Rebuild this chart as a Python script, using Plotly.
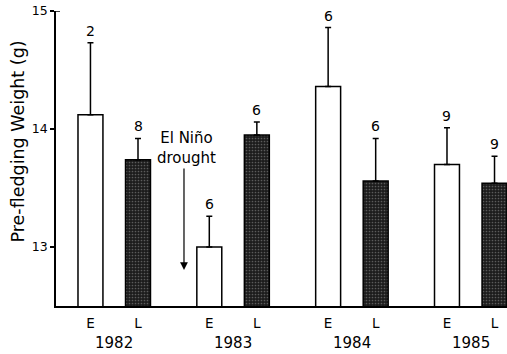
import plotly.graph_objects as go

years = [1982, 1983, 1984, 1985]
early_mean = [14.12, 13.00, 14.36, 13.70]
early_err = [0.61, 0.26, 0.50, 0.31]
early_n = [2, 6, 6, 9]
late_mean = [13.74, 13.95, 13.56, 13.54]
late_err = [0.18, 0.11, 0.36, 0.23]
late_n = [8, 6, 6, 9]
season_labels = ["E", "L"]

OFF = 0.2
xe = [y - OFF for y in years]
xl = [y + OFF for y in years]
FONT = "DejaVu Sans, Liberation Sans, Arial, sans-serif"

W, H = 507, 354
ML, MR, MT, MB = 56, 0, 11, 48
plot_w = W - ML - MR
plot_h = H - MT - MB

fig = go.Figure()
fig.add_trace(go.Bar(
    x=xe, y=early_mean, width=0.21,
    marker=dict(color="white", line=dict(color="black", width=1.5)),
    error_y=dict(type="data", array=early_err, arrayminus=[0] * 4, symmetric=False,
                 color="black", thickness=1.5, width=3),
    showlegend=False, hoverinfo="skip",
))
fig.add_trace(go.Bar(
    x=xl, y=late_mean, width=0.21,
    marker=dict(color="#1c1c1c", line=dict(color="black", width=1.5),
                pattern=dict(shape=".", fgcolor="#9a9a9a", bgcolor="#1c1c1c",
                             size=3, solidity=0.25)),
    error_y=dict(type="data", array=late_err, arrayminus=[0] * 4, symmetric=False,
                 color="black", thickness=1.5, width=3),
    showlegend=False, hoverinfo="skip",
))

# sample sizes above the error bars
for xs, means, errs, ns in [(xe, early_mean, early_err, early_n), (xl, late_mean, late_err, late_n)]:
    for x, m, e, n in zip(xs, means, errs, ns):
        fig.add_annotation(x=x, y=m + e, xref="x", yref="y", text=str(n),
                           showarrow=False, yanchor="bottom", yshift=2,
                           font=dict(size=14, color="black", family=FONT))

# year labels
for y in years:
    fig.add_annotation(x=y, y=-0.125, xref="x", yref="paper", text=str(y),
                       showarrow=False, yanchor="middle",
                       font=dict(size=15, color="black", family=FONT))

# y-axis title (pixel position converted to paper coordinates)
title_px_x, title_px_y = 17, 141.5
fig.add_annotation(x=(title_px_x - ML) / plot_w, y=1 - (title_px_y - MT) / plot_h,
                   xref="paper", yref="paper", text="Pre-fledging Weight (g)",
                   showarrow=False, textangle=-90, xanchor="center", yanchor="middle",
                   font=dict(size=17.5, color="black", family=FONT))

# El Nino annotation
fig.add_annotation(x=1982.604, y=13.835, xref="x", yref="y", text="El Niño<br>drought",
                   showarrow=False, yanchor="middle",
                   font=dict(size=15, color="black", family=FONT))
fig.add_annotation(x=1982.587, y=12.805, ax=1982.587, ay=13.678, xref="x", yref="y",
                   axref="x", ayref="y", text="", showarrow=True,
                   arrowhead=2, arrowsize=1.3, arrowwidth=1.2, arrowcolor="black")

# small stub at the top of the y axis
fig.add_shape(type="line", xref="paper", yref="y", x0=0, x1=4 / plot_w, y0=15, y1=15,
              line=dict(color="black", width=1.5))

fig.update_layout(
    width=W, height=H,
    margin=dict(l=ML, r=MR, t=MT, b=MB, autoexpand=False),
    paper_bgcolor="white", plot_bgcolor="white",
    font=dict(family=FONT, color="black", size=13),
    barmode="overlay",
    xaxis=dict(range=[1981.51, 1985.305], showgrid=False, zeroline=False,
               showline=True, linecolor="black", linewidth=1.5,
               tickvals=xe + xl, ticktext=[season_labels[0]] * 4 + [season_labels[1]] * 4,
               ticks="", tickfont=dict(size=13.5), ticklabelstandoff=4, automargin=False),
    yaxis=dict(range=[12.5, 15.0], showgrid=False, zeroline=False,
               showline=True, linecolor="black", linewidth=1.5,
               tickvals=[13, 14, 15], ticks="outside", ticklen=4, tickwidth=1.5,
               tickcolor="black", tickfont=dict(size=12.5), automargin=False,
               ticklabeloverflow="allow"),
)

fig.write_html("out.html", config={"displayModeBar": False},
               post_script="document.body.style.margin='0';")
